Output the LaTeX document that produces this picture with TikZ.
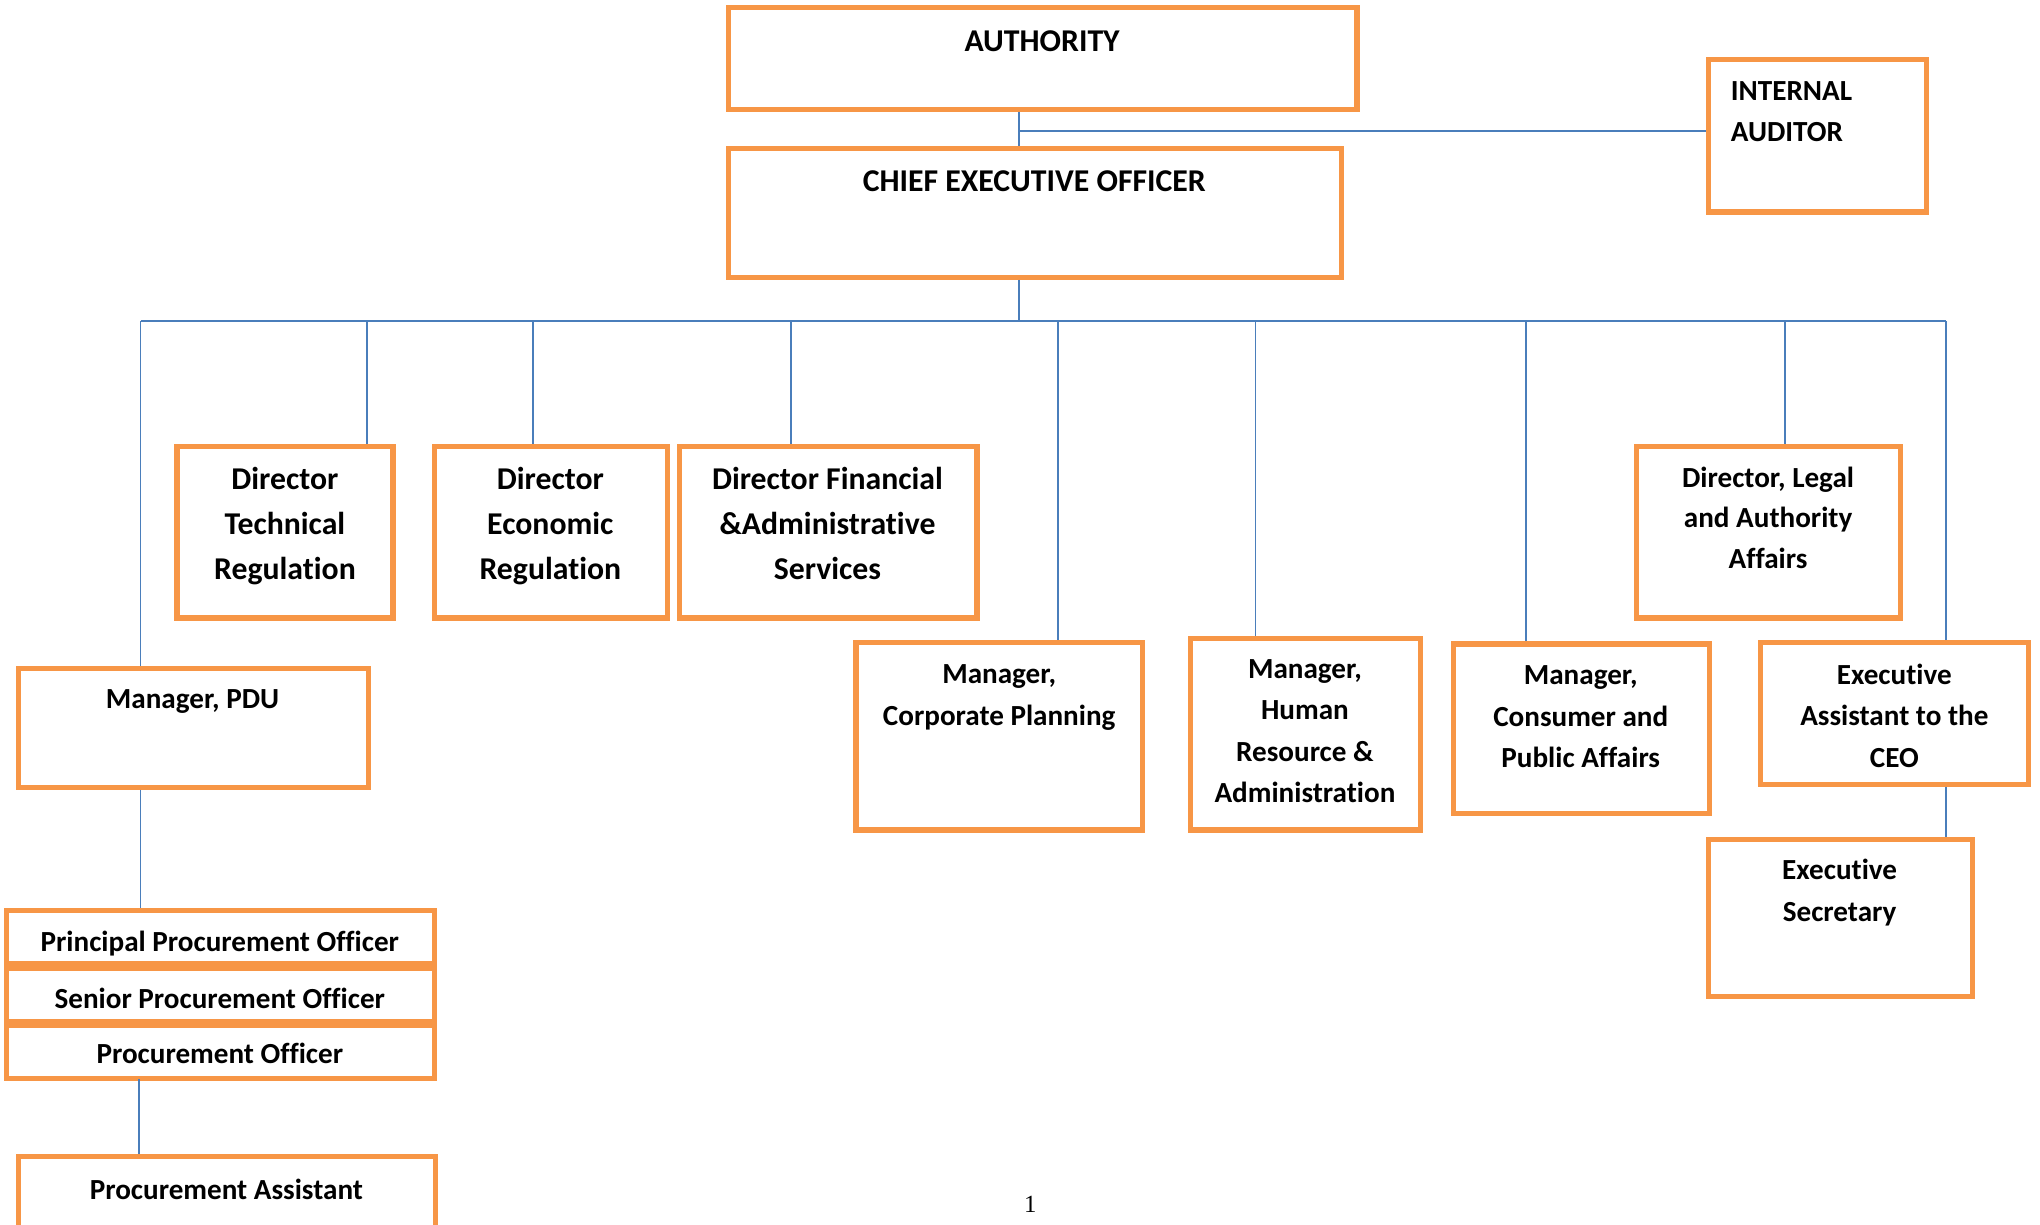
\documentclass[tikz,border=0pt]{standalone}
\usepackage{fontspec}
\setmainfont{Carlito}[Ligatures=NoCommon]
\newfontfamily\pagefont{Liberation Serif}
\usetikzlibrary{fit}
\definecolor{boxorange}{HTML}{F79646}
\definecolor{linkblue}{HTML}{4A7EBB}
\begin{document}
\begin{tikzpicture}[x=0.5pt,y=-0.5pt,
  box/.style={draw=boxorange, line width=2pt, inner sep=0pt},
  big/.style={font=\bfseries\fontsize{12.2}{17.25}\selectfont, align=center, inner sep=0pt},
  mid/.style={font=\bfseries\fontsize{11.2}{16}\selectfont, align=center, inner sep=0pt},
  conn/.style={draw=linkblue, line width=0.75pt}]
\useasboundingbox (0,0) rectangle (1568,941);

% boxes
\node[box, fit={(560,6) (1043,84)}] (auth) {};
\node[box, fit={(560,114) (1031,213)}] (ceo) {};
\node[box, fit={(1313,46) (1481,163)}] (ia) {};
\node[box, fit={(136,343) (302,475)}] (dtr) {};
\node[box, fit={(334,343) (513,475)}] (der) {};
\node[box, fit={(522,343) (751,475)}] (dfa) {};
\node[box, fit={(1258,343) (1461,475)}] (dla) {};
\node[box, fit={(14,514) (283,605)}] (pdu) {};
\node[box, fit={(658,494) (878,638)}] (mcp) {};
\node[box, fit={(915,491) (1092,638)}] (mhr) {};
\node[box, fit={(1117,495) (1314,625)}] (mcpa) {};
\node[box, fit={(1353,494) (1559,603)}] (eac) {};
\node[box, fit={(1313,645) (1516,766)}] (es) {};
\node[box, fit={(5,700) (334,741)}] (ppo) {};
\node[box, fit={(5,744) (334,785)}] (spo) {};
\node[box, fit={(5,788) (334,829)}] (po) {};
\node[box, fit={(14,889) (335,945)}] (pa) {};

% texts
\node[big] (authT) at (801,32) {AUTHORITY};
\node[big] (ceoT) at (795,139) {CHIEF EXECUTIVE OFFICER};
\node[mid, align=left, anchor=north west] (iaT) at (1330,62) {INTERNAL\\AUDITOR};
\node[big] (dtrT) at (219,404.5) {Director\\Technical\\Regulation};
\node[big] (derT) at (423,404.5) {Director\\Economic\\Regulation};
\node[big] (dfaT) at (636,402.5) {Director Financial\\\&Administrative\\Services};
\node[mid, font=\bfseries\fontsize{11.2}{15.5}\selectfont] (dlaT) at (1359,398) {Director, Legal\\and Authority\\Affairs};
\node[mid] (pduT) at (148,539) {Manager, PDU};
\node[mid] (mcpT) at (768,536) {Manager,\\Corporate Planning};
\node[mid] (mhrT) at (1003,562) {Manager,\\Human\\Resource \&\\Administration};
\node[mid] (mcpaT) at (1215,551) {Manager,\\Consumer and\\Public Affairs};
\node[mid] (eacT) at (1456,550) {Executive\\Assistant to the\\CEO};
\node[mid] (esT) at (1414,686) {Executive\\Secretary};
\node[mid] (ppoT) at (169,725) {Principal Procurement Officer};
\node[mid] (spoT) at (169,767) {Senior Procurement Officer};
\node[mid] (poT) at (169,810) {Procurement Officer};
\node[mid] (paT) at (174,914) {Procurement Assistant};
\node[font=\pagefont\fontsize{9.5}{11}\selectfont, inner sep=0pt] (pg) at (792,926) {1};

% connectors
\coordinate (trunk) at (783,247);
\coordinate (iaj) at (783,101);
\coordinate (busL) at (108,247);
\coordinate (busR) at (1496,247);
\draw[conn] (auth.south -| trunk) -- (ceo.north -| trunk);
\draw[conn] (iaj) -- (iaj -| ia.west);
\draw[conn] (ceo.south -| trunk) -- (trunk);
\draw[conn] (busL) -- (busR);
\coordinate (x1) at (282,247);
\coordinate (x2) at (410,247);
\coordinate (x3) at (608,247);
\coordinate (x4) at (813,247);
\coordinate (x5) at (965,247);
\coordinate (x6) at (1173,247);
\coordinate (x7) at (1372,247);
\draw[conn] (busL) -- (busL |- pdu.north);
\draw[conn] (x1) -- (x1 |- dtr.north);
\draw[conn] (x2) -- (x2 |- der.north);
\draw[conn] (x3) -- (x3 |- dfa.north);
\draw[conn] (x4) -- (x4 |- mcp.north);
\draw[conn] (x5) -- (x5 |- mhr.north);
\draw[conn] (x6) -- (x6 |- mcpa.north);
\draw[conn] (x7) -- (x7 |- dla.north);
\draw[conn] (busR) -- (busR |- eac.north);
\draw[conn] (eac.south -| busR) -- (es.north -| busR);
\draw[conn] (pdu.south -| busL) -- (ppo.north -| busL);
\coordinate (pj) at (107,829);
\draw[conn] (pj) -- (pj |- pa.north);
\end{tikzpicture}
\end{document}
